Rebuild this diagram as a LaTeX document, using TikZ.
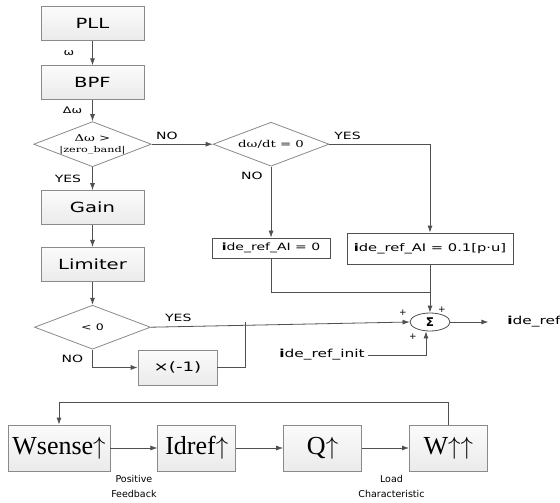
\documentclass[tikz,border=0pt]{standalone}
\usepackage{fontspec}
\setmainfont{DejaVu Sans}
\newfontfamily\widesans[FakeStretch=1.4]{DejaVu Sans}
\newfontfamily\wideserif[FakeStretch=1.4]{DejaVu Serif}
\newfontfamily\loopserif{Liberation Serif}
\usetikzlibrary{shapes.geometric, arrows.meta, positioning, calc}

\definecolor{linegray}{HTML}{505050}
\definecolor{edgegray}{HTML}{8A8A8A}

\begin{document}
\begin{tikzpicture}[
    x=1pt, y=1pt,
    line width=0.8pt,
    >={Latex[length=7pt,width=5pt]},
    block/.style={rectangle, draw=edgegray, top color=gray!3, bottom color=gray!16, minimum width=103pt, minimum height=34pt, inner sep=0pt, font=\widesans\fontsize{14}{16}\selectfont},
    decision/.style={diamond, draw=edgegray, fill=white, aspect=2.6, minimum width=116pt, minimum height=44pt, inner sep=0pt, align=center, font=\wideserif\fontsize{9.5}{11}\selectfont},
    refbox/.style={rectangle, draw=linegray, fill=white, inner sep=0pt, font=\widesans\fontsize{10}{12}\selectfont},
    lbl/.style={inner sep=1pt, font=\widesans\fontsize{10}{12}\selectfont},
    sumnode/.style={ellipse, draw=linegray, fill=white, minimum width=40pt, minimum height=18pt, inner sep=0pt, font=\bfseries\fontsize{12}{12}\selectfont},
    loopbox/.style={rectangle, draw=edgegray, top color=gray!3, bottom color=gray!16, minimum width=78pt, minimum height=46pt, inner sep=0pt, font=\loopserif\fontsize{26}{28}\selectfont},
    note/.style={align=center, inner sep=0pt, font=\fontsize{9.5}{15}\selectfont},
    flow/.style={->, draw=linegray},
    wire/.style={draw=linegray}
]
    \useasboundingbox (0,0) rectangle (560,-503);

    \node[block] (pll) at (92.5,-23.5) {PLL};
    \node[block, below=24.5pt of pll] (bpf) {BPF};
    \node[decision, below=21pt of bpf] (band) {Δω >\\{\fontsize{8}{9}\selectfont |zero\_band|}};
    \node[decision, right=61pt of band] (slope) {dω/dt = 0};
    \node[block, below=23pt of band] (gain) {Gain};
    \node[block, below=22pt of gain] (limiter) {Limiter};
    \node[decision, below=23pt of limiter, font=\widesans\fontsize{9}{11}\selectfont] (sign) {< 0};
    \node[block, minimum width=79pt, minimum height=35pt, font=\widesans\fontsize{13}{15}\selectfont] (negate) at (177.5,-367.5) {×(-1)};

    \node[refbox, below=71pt of slope, minimum width=118pt, minimum height=20pt] (aizero) {\textbf{i}de\_ref\_AI = 0};
    \node[refbox, minimum width=166pt, minimum height=31pt, font=\widesans\fontsize{10.5}{12}\selectfont] (aistep) at (430,-248.5) {\textbf{i}de\_ref\_AI = 0.1[p·u]};
    \coordinate (join) at ($(aistep.south)+(0,-28)$);

    \node[sumnode] (sum) at (430,-322) {Σ};
    \node[lbl, anchor=east, font=\widesans\fontsize{11}{12}\selectfont, inner sep=3pt] (init) at (368,-355) {\textbf{i}de\_ref\_init};
    \node[lbl, anchor=west, font=\widesans\fontsize{11}{12}\selectfont] (out) at (506,-322) {\textbf{i}de\_ref};
    \coordinate (merge) at (245,-322);

    \draw[flow] (pll) -- node[lbl, left=17pt, font=\widesans\fontsize{9}{10}\selectfont] {ω} (bpf);
    \draw[flow] (bpf) -- node[lbl, left=9pt, font=\widesans\fontsize{9}{10}\selectfont] {Δω} (band);
    \draw[flow] (band) -- node[lbl, pos=0.25, above=3pt] {NO} (slope);
    \draw[flow] (band) -- node[lbl, left=10pt] {YES} (gain);
    \draw[flow] (gain) -- (limiter);
    \draw[flow] (limiter) -- (sign);
    \draw[flow] (slope.east) -| node[lbl, pos=0.09, above=3pt] {YES} (aistep.north);
    \draw[flow] (slope) -- node[lbl, pos=0.13, left=7pt] {NO} (aizero);
    \draw[wire] (aizero.south) |- (join);
    \draw[flow] (aistep.south) -- (sum.north);
    \draw[flow] (sign.east) -- node[lbl, pos=0.106, above=4pt] {YES} (sum.west);
    \draw[flow] (sign.south) |- node[lbl, pos=0.25, left=8pt] {NO} (negate.west);
    \draw[wire] (negate.east) -| (merge);
    \draw[flow] (init.east) -| ([xshift=-4pt]sum.south);
    \draw[flow] (sum.east) -- ++(38,0);

    \node[lbl, font=\fontsize{9}{9}\selectfont] at ($(sum)+(-27,9)$) {+};
    \node[lbl, font=\fontsize{9}{9}\selectfont] at ($(sum)+(12,12)$) {+};
    \node[lbl, font=\fontsize{9}{9}\selectfont] at ($(sum)+(-17,-15)$) {+};

    \node[loopbox, minimum width=102pt] (wsense) at (59,-448) {Wsense$\uparrow$};
    \node[loopbox, right=47pt of wsense] (idref) {Idref$\uparrow$};
    \node[loopbox, right=47pt of idref] (qbox) {Q$\uparrow$};
    \node[loopbox, right=47pt of qbox] (wbox) {W$\uparrow\uparrow$};

    \draw[flow] (wsense) -- node[note, below=27pt] {Positive\\Feedback} (idref);
    \draw[flow] (idref) -- (qbox);
    \draw[flow] (qbox) -- node[note, below=27pt, xshift=6pt] {Load\\Characteristic} (wbox);
    \draw[flow] (wbox.north) -- ++(0,22) -| (wsense.north);
\end{tikzpicture}
\end{document}
